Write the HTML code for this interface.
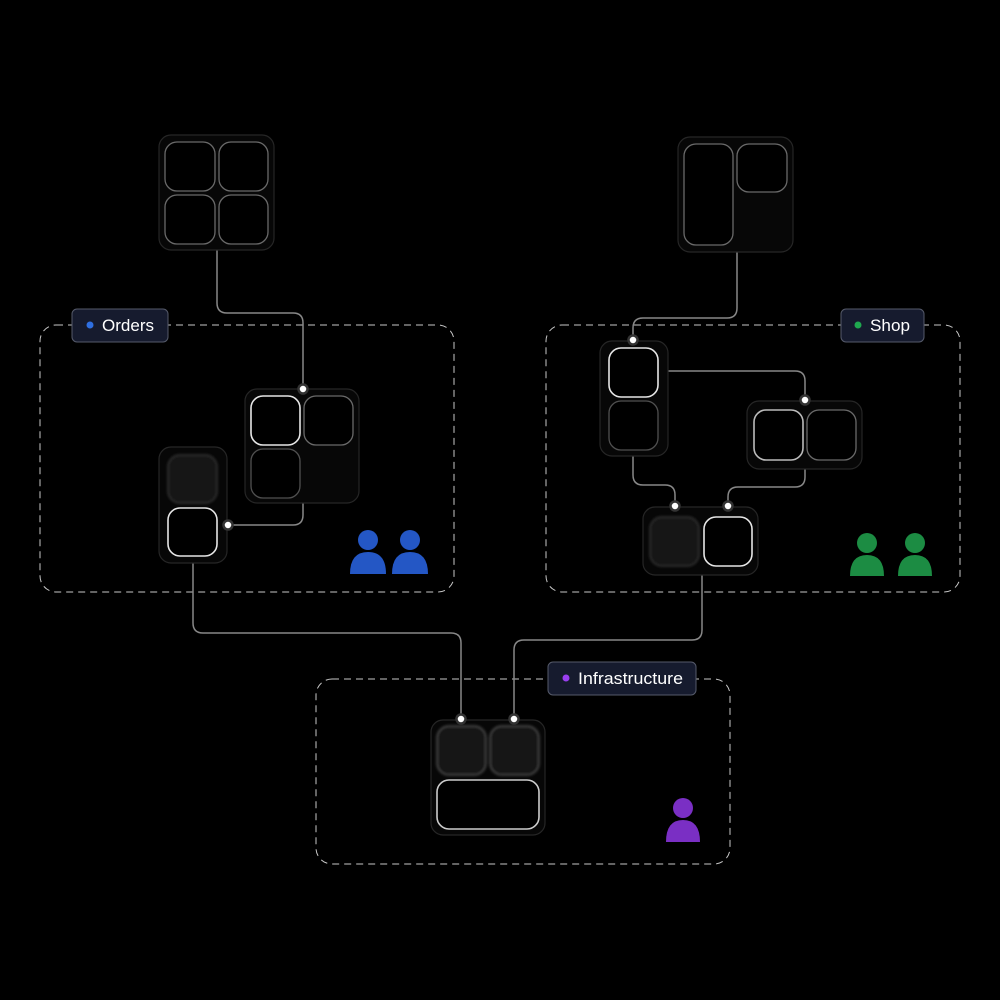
<!DOCTYPE html>
<html><head><meta charset="utf-8"><style>html,body{margin:0;padding:0;background:#000}svg{display:block}</style></head>
<body>
<svg width="1000" height="1000" viewBox="0 0 1000 1000" xmlns="http://www.w3.org/2000/svg" font-family="Liberation Sans, sans-serif">
<rect width="1000" height="1000" fill="#000"/>
<defs><filter id="b" x="-20%" y="-20%" width="140%" height="140%"><feGaussianBlur stdDeviation="1.2"/></filter></defs>
<g fill="none" stroke="#c8c8c8" stroke-width="1" stroke-dasharray="7 5">
<rect x="40" y="325" width="414" height="267" rx="16"/>
<rect x="546" y="325" width="414" height="267" rx="16"/>
<rect x="316" y="679" width="414" height="185" rx="16"/>
</g>
<g fill="none" stroke="#888" stroke-width="1.5">
<path d="M217 250 V303 Q217 313 227 313 H293 Q303 313 303 323 V389"/>
<path d="M303 503 V515 Q303 525 293 525 H228"/>
<path d="M193 563 V623 Q193 633 203 633 H451 Q461 633 461 643 V719"/>
<path d="M737 252 V308 Q737 318 727 318 H643 Q633 318 633 328 V340"/>
<path d="M668 371 H795 Q805 371 805 381 V400"/>
<path d="M633 456 V475 Q633 485 643 485 H665 Q675 485 675 495 V506"/>
<path d="M805 469 V477 Q805 487 795 487 H738 Q728 487 728 497 V506"/>
<path d="M702 575 V630 Q702 640 692 640 H524 Q514 640 514 650 V719"/>
</g>
<g fill="#070707" stroke="#262626" stroke-width="1.2">
<rect x="159" y="135" width="115" height="115" rx="12"/>
<rect x="678" y="137" width="115" height="115" rx="12"/>
<rect x="245" y="389" width="114" height="114" rx="12"/>
<rect x="159" y="447" width="68" height="116" rx="12"/>
<rect x="600" y="341" width="68" height="115" rx="12"/>
<rect x="747" y="401" width="115" height="68" rx="12"/>
<rect x="643" y="507" width="115" height="68" rx="12"/>
<rect x="431" y="720" width="114" height="115" rx="12"/>
</g>
<g fill="#000" stroke="#6a6a6a" stroke-width="1.3">
<rect x="165" y="142" width="50" height="49" rx="12"/>
<rect x="219" y="142" width="49" height="49" rx="12"/>
<rect x="165" y="195" width="50" height="49" rx="12"/>
<rect x="219" y="195" width="49" height="49" rx="12"/>
<rect x="684" y="144" width="49" height="101" rx="12"/>
<rect x="737" y="144" width="50" height="48" rx="12"/>
<rect x="304" y="396" width="49" height="49" rx="12"/>
<rect x="251" y="449" width="49" height="49" rx="12" stroke="#505050"/>
<rect x="609" y="401" width="49" height="49" rx="12" stroke="#505050"/>
<rect x="807" y="410" width="49" height="50" rx="12"/>
</g>
<g fill="#000" stroke="#e6e6e6" stroke-width="1.6">
<rect x="251" y="396" width="49" height="49" rx="12"/>
<rect x="168" y="508" width="49" height="48" rx="12"/>
<rect x="609" y="348" width="49" height="49" rx="12"/>
<rect x="754" y="410" width="49" height="50" rx="12" stroke="#bbb"/>
<rect x="704" y="517" width="48" height="49" rx="12"/>
<rect x="437" y="780" width="102" height="49" rx="12" stroke="#ccc"/>
</g>
<g fill="#121212" stroke="#333" stroke-width="1.5" filter="url(#b)">
<rect x="168" y="455" width="49" height="48" rx="12"/>
<rect x="650" y="517" width="49" height="49" rx="12"/>
<rect x="437" y="726" width="49" height="49" rx="12" stroke="#4a4a4a"/>
<rect x="490" y="726" width="49" height="49" rx="12" stroke="#4a4a4a"/>
</g>
<g fill="#fff" stroke="#333" stroke-width="2.5">
<circle cx="303" cy="389" r="4.5"/>
<circle cx="228" cy="525" r="4.5"/>
<circle cx="633" cy="340" r="4.5"/>
<circle cx="805" cy="400" r="4.5"/>
<circle cx="675" cy="506" r="4.5"/>
<circle cx="728" cy="506" r="4.5"/>
<circle cx="461" cy="719" r="4.5"/>
<circle cx="514" cy="719" r="4.5"/>
</g>
<g font-size="16.5" fill="#fff">
<rect x="72" y="309" width="96" height="33" rx="5" fill="#161b2e" stroke="#555a6a"/>
<circle cx="90" cy="325" r="3.5" fill="#2f6fe0"/>
<text x="102" y="331" textLength="52" lengthAdjust="spacingAndGlyphs">Orders</text>
<rect x="841" y="309" width="83" height="33" rx="5" fill="#161b2e" stroke="#555a6a"/>
<circle cx="858" cy="325" r="3.5" fill="#1fa84f"/>
<text x="870" y="331" textLength="40" lengthAdjust="spacingAndGlyphs">Shop</text>
<rect x="548" y="662" width="148" height="33" rx="5" fill="#161b2e" stroke="#555a6a"/>
<circle cx="566" cy="678" r="3.5" fill="#9a3ff0"/>
<text x="578" y="684" textLength="105" lengthAdjust="spacingAndGlyphs">Infrastructure</text>
</g>
<g fill="#2457c5">
<circle cx="368" cy="540" r="10"/><path d="M350 574 Q350 552 368 552 Q386 552 386 574 Z"/>
<circle cx="410" cy="540" r="10"/><path d="M392 574 Q392 552 410 552 Q428 552 428 574 Z"/>
</g>
<g fill="#1c8c43">
<circle cx="867" cy="543" r="10"/><path d="M850 576 Q850 555 867 555 Q884 555 884 576 Z"/>
<circle cx="915" cy="543" r="10"/><path d="M898 576 Q898 555 915 555 Q932 555 932 576 Z"/>
</g>
<g fill="#7a2fc4">
<circle cx="683" cy="808" r="10"/><path d="M666 842 Q666 820 683 820 Q700 820 700 842 Z"/>
</g>
</svg>
</body></html>
